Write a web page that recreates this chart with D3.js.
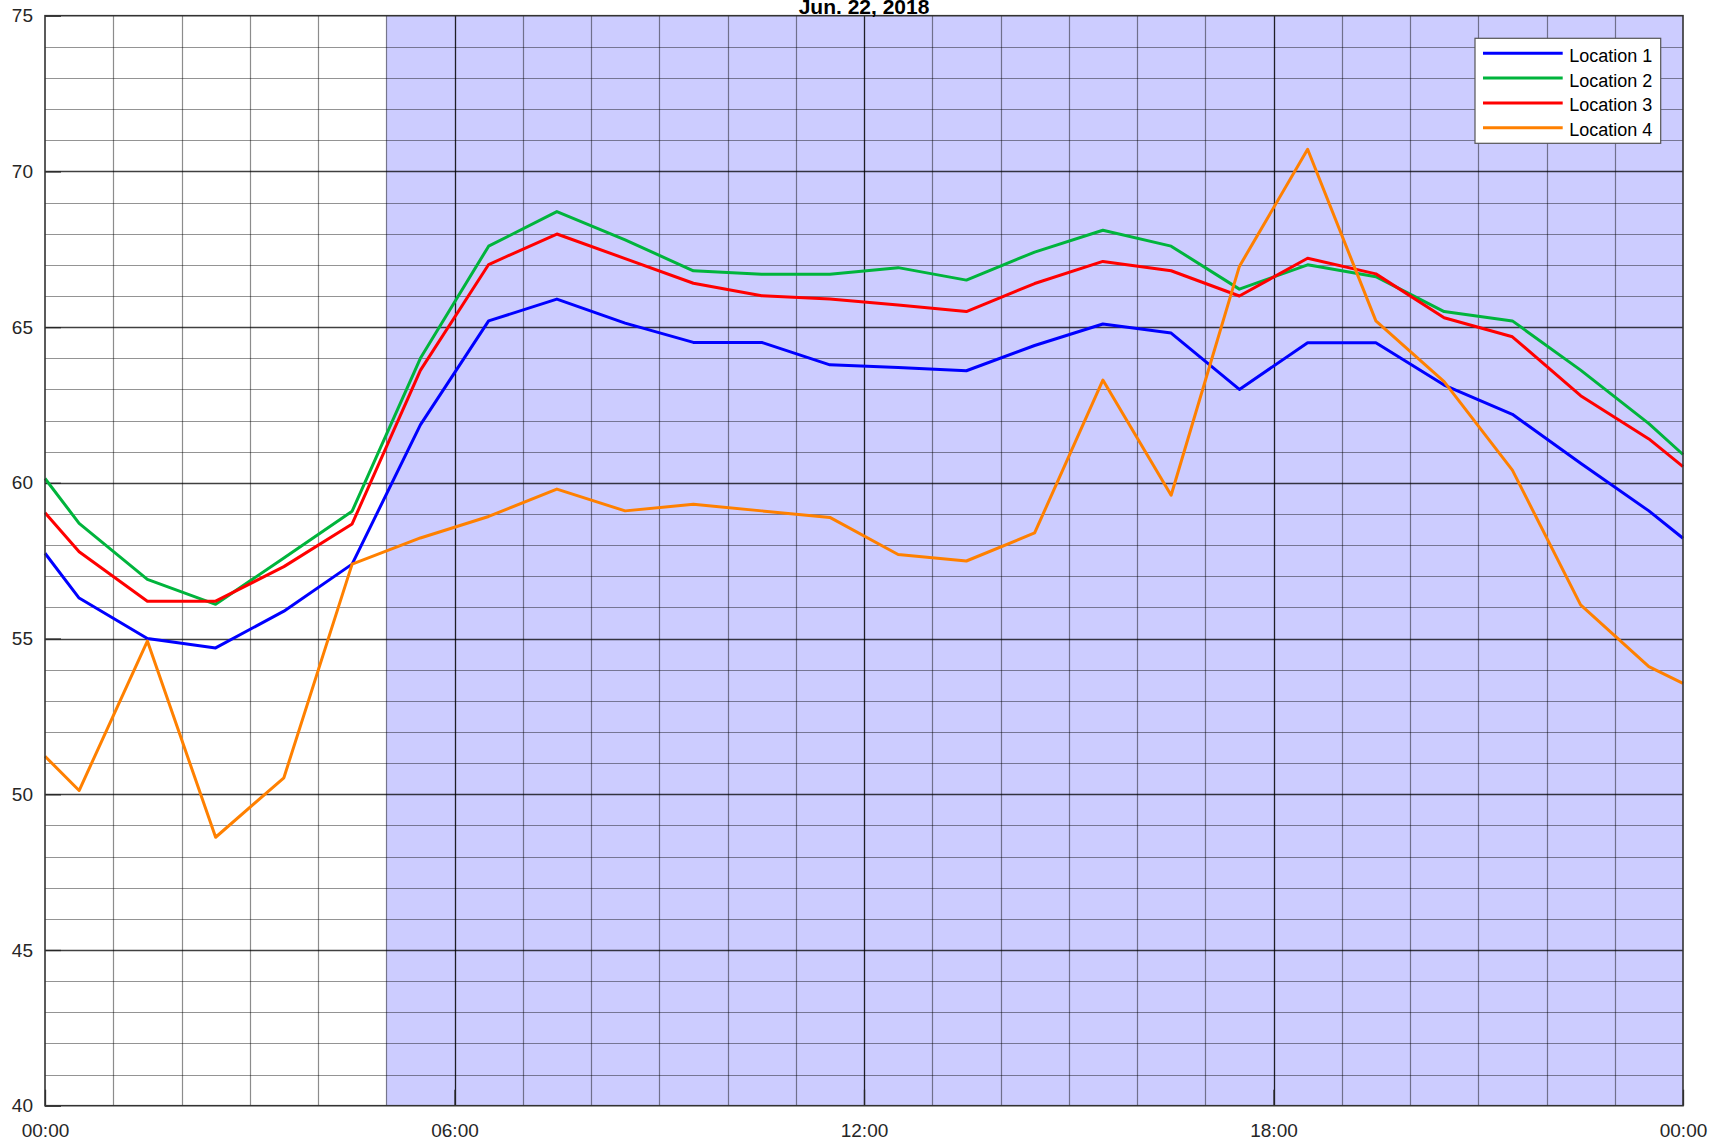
<!DOCTYPE html>
<html lang="en">
  <head>
    <title>Jun. 22, 2018</title>
    <meta charset="utf-8">
    <style>
      body { margin: 0; background: #fff; }
      text { font-family: "Liberation Sans", Arial, sans-serif; }
    </style>
  </head>
  <body>
<svg width="1710" height="1140"></svg>
<script src="https://d3js.org/d3.v7.min.js"></script>
<script>

// sample times in hours after midnight
var hours = [0, 0.5, 1.5, 2.5, 3.5, 4.5, 5.5, 6.5, 7.5, 8.5, 9.5, 10.5, 11.5, 12.5,
             13.5, 14.5, 15.5, 16.5, 17.5, 18.5, 19.5, 20.5, 21.5, 22.5, 23.5, 24];

var location1 = [57.74, 56.3, 55.0, 54.7, 55.88, 57.39, 61.86, 65.2, 65.9, 65.13, 64.51, 64.51, 63.79,
                 63.7, 63.6, 64.41, 65.1, 64.81, 63.0, 64.5, 64.5, 63.14, 62.2, 60.63, 59.1, 58.22];
var location2 = [60.14, 58.7, 56.9, 56.1, 57.59, 59.09, 64.0, 67.6, 68.71, 67.8, 66.81, 66.7, 66.7,
                 66.91, 66.51, 67.41, 68.11, 67.6, 66.22, 67.0, 66.62, 65.5, 65.2, 63.62, 61.9, 60.91];
var location3 = [59.04, 57.79, 56.2, 56.2, 57.31, 58.68, 63.61, 67.01, 67.99, 67.2, 66.41, 66.01, 65.9,
                 65.71, 65.5, 66.4, 67.11, 66.81, 66.0, 67.21, 66.71, 65.3, 64.69, 62.8, 61.41, 60.52];
var location4 = [51.22, 50.12, 54.92, 48.62, 50.53, 57.39, 58.23, 58.92, 59.8, 59.1, 59.31, 59.1, 58.89,
                 57.7, 57.49, 58.39, 63.3, 59.6, 66.95, 70.71, 65.2, 63.25, 60.41, 56.08, 54.1, 53.56];

var seriesNames = ["Location 1", "Location 2", "Location 3", "Location 4"];
var seriesColors = ["#0000ff", "#00b43c", "#ff0000", "#ff8000"];

var yTicks = [40, 45, 50, 55, 60, 65, 70, 75];
var xTicks = [0, 6, 12, 18, 24];
var xTickLabels = ["00:00", "06:00", "12:00", "18:00", "00:00"];
var shadeFrom = 5, shadeTo = 24; // shaded span in hours
var title = "Jun. 22, 2018";

var svg = d3.select("svg"),
    plotLeft = 45, plotRight = 1683, plotTop = 15.7, plotBottom = 1105.7;

var x = d3.scaleLinear().domain([0, 24]).range([plotLeft, plotRight]);
var y = d3.scaleLinear().domain([40, 75]).range([plotBottom, plotTop]);

// shaded background
svg.append("rect")
    .attr("x", x(shadeFrom)).attr("y", plotTop)
    .attr("width", x(shadeTo) - x(shadeFrom)).attr("height", plotBottom - plotTop)
    .attr("fill", "#ccccff");

// grid: minor every unit / hour, major at ticks
var grid = svg.append("g");
d3.range(41, 75).forEach(function(v) {
  var major = yTicks.indexOf(v) >= 0;
  grid.append("line")
      .attr("x1", plotLeft).attr("x2", plotRight)
      .attr("y1", Math.round(y(v)) + 0.5).attr("y2", Math.round(y(v)) + 0.5)
      .attr("stroke", "#000").attr("stroke-opacity", major ? 0.75 : 0.42)
      .attr("stroke-width", major ? 1.4 : 1.2);
});
d3.range(1, 24).forEach(function(h) {
  var major = xTicks.indexOf(h) >= 0;
  grid.append("line")
      .attr("y1", plotTop).attr("y2", plotBottom)
      .attr("x1", Math.round(x(h)) + 0.5).attr("x2", Math.round(x(h)) + 0.5)
      .attr("stroke", "#000").attr("stroke-opacity", major ? 0.85 : 0.45)
      .attr("stroke-width", major ? 1.3 : 1.2);
});

// axes
var yAxis = svg.append("g")
    .attr("transform", "translate(" + plotLeft + ",0)")
    .call(d3.axisRight(y).tickValues(yTicks).tickSize(16).tickFormat(d3.format("d")));
yAxis.selectAll("text").attr("x", -12).attr("text-anchor", "end")
    .attr("font-size", 19).attr("fill", "#262626")
    .style("font-family", '"Liberation Sans", Arial, sans-serif');

var xAxis = svg.append("g")
    .attr("transform", "translate(0," + plotBottom + ")")
    .call(d3.axisTop(x).tickValues(xTicks).tickSize(16)
      .tickFormat(function(d, i) { return xTickLabels[i]; }));
xAxis.selectAll("text").attr("y", 31).attr("dy", 0)
    .attr("font-size", 19).attr("fill", "#262626")
    .style("font-family", '"Liberation Sans", Arial, sans-serif');
svg.selectAll(".domain").remove();
svg.selectAll(".tick line").attr("stroke", "#262626").attr("stroke-width", 1.3);

// data lines
var series = [location1, location2, location3, location4];
var line = d3.line()
    .x(function(d, i) { return x(hours[i]); })
    .y(function(d) { return y(d); });

svg.append("g").selectAll("path")
  .data(series)
  .enter().append("path")
    .attr("d", line)
    .attr("fill", "none")
    .attr("stroke", function(d, i) { return seriesColors[i]; })
    .attr("stroke-width", 3)
    .attr("stroke-linejoin", "round");

// frame
svg.append("rect")
    .attr("x", plotLeft).attr("y", plotTop)
    .attr("width", plotRight - plotLeft).attr("height", plotBottom - plotTop)
    .attr("fill", "none").attr("stroke", "#333").attr("stroke-width", 1.6);

// title (sits right on top of the frame, partly cut at the page edge like the original)
svg.append("text")
    .attr("x", (plotLeft + plotRight) / 2).attr("y", 14)
    .attr("text-anchor", "middle")
    .attr("font-size", 21).attr("font-weight", "bold")
    .text(title);

// legend
var legend = svg.append("g").attr("transform", "translate(1475,38.3)");
legend.append("rect")
    .attr("width", 185.7).attr("height", 105)
    .attr("fill", "#fff").attr("stroke", "#555").attr("stroke-width", 1.2);
seriesNames.forEach(function(name, i) {
  var yy = 15 + i * 24.8;
  legend.append("line")
      .attr("x1", 8).attr("x2", 87.7).attr("y1", yy).attr("y2", yy)
      .attr("stroke", seriesColors[i]).attr("stroke-width", 3);
  legend.append("text")
      .attr("x", 94.3).attr("y", yy + 8.6)
      .attr("font-size", 18).attr("fill", "#000")
      .text(name);
});

</script>
  </body>
</html>
